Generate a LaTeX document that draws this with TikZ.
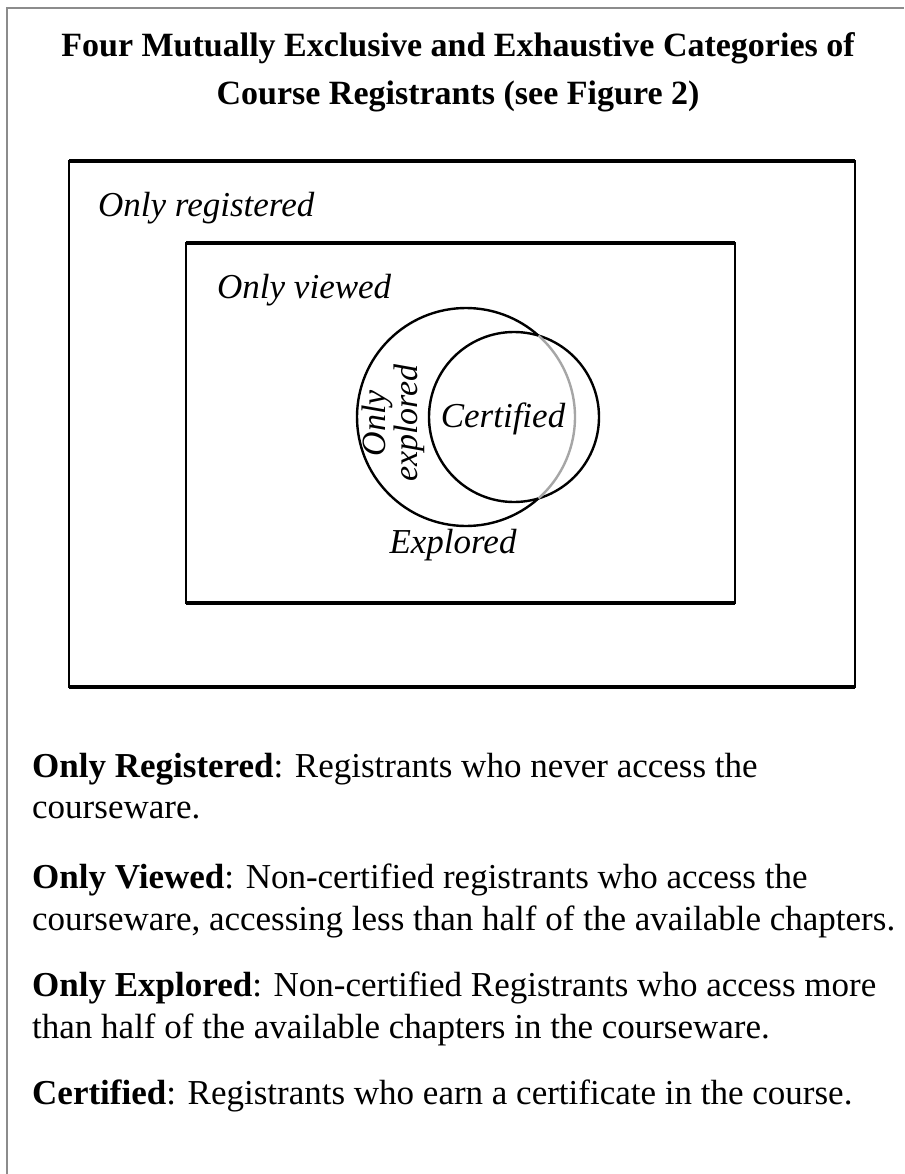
\documentclass[tikz,border=0pt]{standalone}
\usepackage{fontspec}
\setmainfont{Liberation Serif}
\begin{document}
\begin{tikzpicture}[x=1pt,y=-1pt,
  frameline/.style={draw=black!45,line width=2pt},
  boxline/.style={draw=black,line width=2.6pt},
  boxedge/.style={draw=black,line width=4pt},
  ringline/.style={draw=black,line width=2.4pt},
  ghostline/.style={draw=black!35,line width=2.4pt},
  lab/.style={inner sep=0pt,font=\fontsize{35}{35}\selectfont\itshape},
  ttl/.style={inner sep=0pt,anchor=base,font=\fontsize{34}{40}\selectfont\bfseries},
  body/.style={inner sep=0pt,anchor=base west,font=\fontsize{35}{42}\selectfont}]
\useasboundingbox[fill=white] (0,0) rectangle (904,1174);
% page frame
\coordinate (fa) at (7,1174);
\coordinate (fb) at (7,8);
\coordinate (fc) at (904,8);
\draw[frameline] (fa) -- (fb) -- (fc);
% title
\node[ttl] (t1) at (458,57) {Four Mutually Exclusive and Exhaustive Categories of};
\node[ttl] (t2) at (458,105) {Course Registrants (see Figure 2)};
% outer box
\coordinate (o1) at (69,161);
\coordinate (o2) at (855,687);
\draw[boxline] (o1) rectangle (o2);
\draw[boxedge] (o1) -- (o1 -| o2);
\draw[boxedge] (o1 |- o2) -- (o2);
% inner box
\coordinate (i1) at (186,243);
\coordinate (i2) at (735,603);
\draw[boxline] (i1) rectangle (i2);
\draw[boxedge] (i1) -- (i1 -| i2);
\draw[boxedge] (i1 |- i2) -- (i2);
% circles
\coordinate (ce) at (466,417);
\coordinate (cc) at (514,417);
\draw[ringline] (cc) circle[radius=85];
\draw[ringline] (ce) ++(48.3:109) arc[start angle=48.3,end angle=311.7,radius=109];
\draw[ghostline] (ce) ++(-48.3:109) arc[start angle=-48.3,end angle=48.3,radius=109];
% labels
\node[lab,anchor=base west] (lreg) at (98,217) {Only registered};
\node[lab,anchor=base west] (lview) at (217,298) {Only viewed};
\node[lab,anchor=base] (lcert) at (503,427) {Certified};
\node[lab,anchor=base] (lexp) at (453,553) {Explored};
\node[lab,rotate=90,align=center,font=\fontsize{34}{27}\selectfont\itshape] (lonly) at (393,423) {Only\\explored};
% definitions
\node[body] (d1a) at (32,777) {\textbf{Only Registered}: Registrants who never access the};
\node[body] (d1b) at (32,818) {courseware.};
\node[body] (d2a) at (32,888) {\textbf{Only Viewed}: Non-certified registrants who access the};
\node[body] (d2b) at (32,930) {courseware, accessing less than half of the available chapters.};
\node[body] (d3a) at (32,996) {\textbf{Only Explored}: Non-certified Registrants who access more};
\node[body] (d3b) at (32,1038) {than half of the available chapters in the courseware.};
\node[body] (d4a) at (32,1104) {\textbf{Certified}: Registrants who earn a certificate in the course.};
\end{tikzpicture}
\end{document}
